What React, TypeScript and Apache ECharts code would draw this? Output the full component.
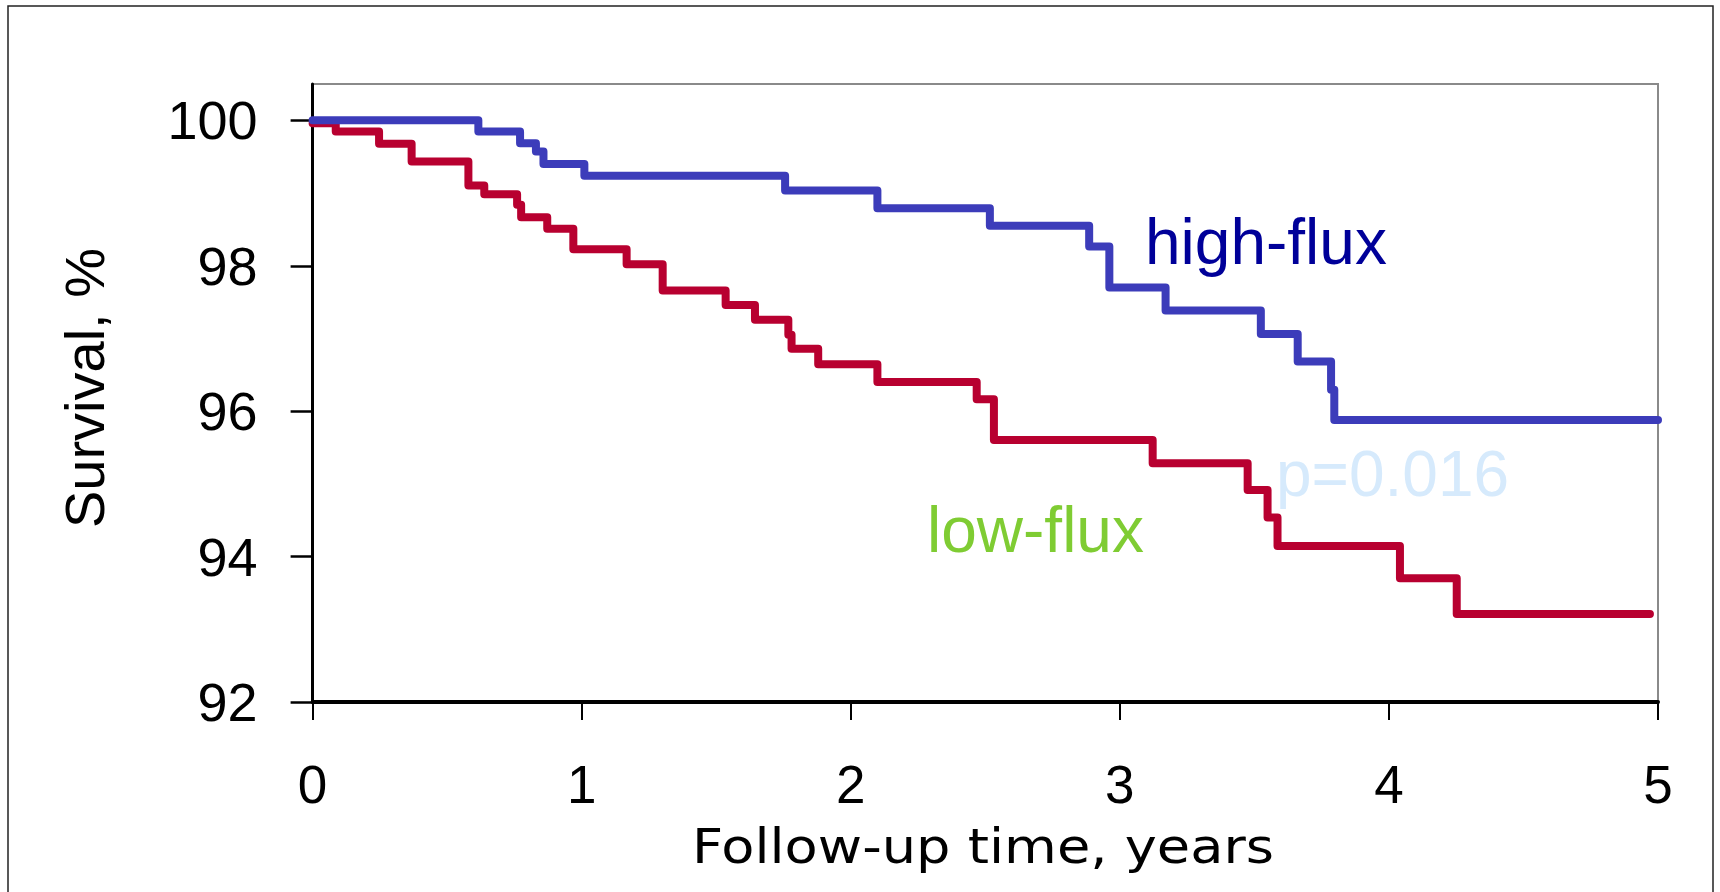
import React, { useEffect, useRef } from "react";
import * as echarts from "echarts";

// ---- data (time in years, survival in %) ----
const highFluxTime = [0, 0.616, 0.771, 0.83, 0.858, 1.01, 1.756, 2.099, 2.517, 2.886, 2.961, 3.17, 3.524, 3.661, 3.785, 3.797, 5.0];
const highFluxSurvival = [100, 99.846, 99.686, 99.57, 99.4, 99.237, 99.035, 98.79, 98.549, 98.264, 97.7, 97.384, 97.06, 96.682, 96.293, 95.88, 95.88];

const lowFluxTime = [0, 0.086, 0.247, 0.368, 0.579, 0.638, 0.76, 0.775, 0.872, 0.969, 1.167, 1.301, 1.535, 1.644, 1.768, 1.78, 1.879, 2.099, 2.468, 2.532, 3.122, 3.475, 3.549, 3.586, 4.041, 4.252, 4.97];
const lowFluxSurvival = [99.96, 99.846, 99.677, 99.433, 99.103, 98.985, 98.838, 98.668, 98.508, 98.228, 98.022, 97.659, 97.462, 97.256, 97.05, 96.857, 96.646, 96.4, 96.165, 95.605, 95.285, 94.917, 94.536, 94.147, 93.703, 93.212, 93.212];

const xTickValues = [0, 1, 2, 3, 4, 5];
const yTickValues = [92, 94, 96, 98, 100];
const seriesNames = ["high-flux", "low-flux"];
const xAxisTitle = "Follow-up time, years";
const yAxisTitle = "Survival, %";
const pValueText = "p=0.016";

const SANS = "'Liberation Sans', Arial, Helvetica, sans-serif";

export default function App() {
  const ref = useRef<HTMLDivElement>(null);

  useEffect(() => {
    if (!ref.current) return;
    const chart = echarts.init(ref.current, null, { renderer: "svg" });
    const zip = (t: number[], s: number[]) => t.map((v, i) => [v, s[i]]);

    chart.setOption({
      animation: false,
      backgroundColor: "#ffffff",
      grid: {
        left: 312.6,
        right: 62,
        top: 84,
        bottom: 190,
        show: true,
        borderColor: "#8a8a8a",
        borderWidth: 2,
        backgroundColor: "transparent",
        containLabel: false,
        outerBoundsMode: "none",
      },
      xAxis: {
        type: "value",
        min: xTickValues[0],
        max: xTickValues[xTickValues.length - 1],
        interval: 1,
        axisLine: { show: true, onZero: false, lineStyle: { color: "#000", width: 4 } },
        axisTick: { show: true, length: 18, lineStyle: { color: "#000", width: 2 } },
        axisLabel: {
          margin: 56,
          fontSize: 53,
          fontFamily: SANS,
          color: "#000",
        },
        splitLine: { show: false },
      },
      yAxis: {
        type: "value",
        min: 92,
        max: 100.5,
        axisLine: { show: true, onZero: false, lineStyle: { color: "#000", width: 3 } },
        axisTick: {
          show: true,
          length: 22,
          customValues: yTickValues,
          lineStyle: { color: "#000", width: 2.5 },
        },
        axisLabel: {
          customValues: yTickValues,
          margin: 55,
          fontSize: 54,
          fontFamily: SANS,
          color: "#000",
        },
        splitLine: { show: false },
      },
      series: [
        {
          name: seriesNames[1],
          type: "line",
          step: "end",
          showSymbol: false,
          clip: false,
          data: zip(lowFluxTime, lowFluxSurvival),
          lineStyle: { color: "#b80030", width: 8, cap: "round", join: "round" },
          z: 3,
        },
        {
          name: seriesNames[0],
          type: "line",
          step: "end",
          showSymbol: false,
          clip: false,
          data: zip(highFluxTime, highFluxSurvival),
          lineStyle: { color: "#3c3cba", width: 8, cap: "round", join: "round" },
          z: 4,
        },
      ],
      graphic: [
        {
          type: "rect",
          silent: true,
          z: 100,
          shape: { x: 8, y: 6, width: 1705, height: 900 },
          style: { fill: "none", stroke: "#222", lineWidth: 1.5 },
        },
        {
          type: "text",
          x: 84,
          y: 388,
          rotation: Math.PI / 2,
          style: {
            text: yAxisTitle,
            fontSize: 56,
            fontFamily: SANS,
            fill: "#000",
            textAlign: "center",
            textVerticalAlign: "middle",
            verticalAlign: "middle",
          },
        },
        {
          type: "text",
          x: 983,
          y: 846,
          scaleX: 1.13,
          style: {
            text: xAxisTitle,
            fontSize: 48,
            fontFamily: "'DejaVu Sans', sans-serif",
            fill: "#000",
            textAlign: "center",
            textVerticalAlign: "middle",
            verticalAlign: "middle",
          },
        },
        {
          type: "text",
          x: 1145,
          y: 242,
          style: {
            text: seriesNames[0],
            fontSize: 64,
            fontFamily: SANS,
            fill: "#000099",
            textAlign: "left",
            textVerticalAlign: "middle",
            verticalAlign: "middle",
          },
        },
        {
          type: "text",
          x: 927,
          y: 530,
          style: {
            text: seriesNames[1],
            fontSize: 64,
            fontFamily: SANS,
            fill: "#7fcc33",
            textAlign: "left",
            textVerticalAlign: "middle",
            verticalAlign: "middle",
          },
        },
        {
          type: "text",
          x: 1276,
          y: 474,
          style: {
            text: pValueText,
            fontSize: 64,
            fontFamily: SANS,
            fill: "#d6eafc",
            textAlign: "left",
            textVerticalAlign: "middle",
            verticalAlign: "middle",
          },
        },
      ],
    });

    return () => chart.dispose();
  }, []);

  return (
    <div
      ref={ref}
      style={{ position: "fixed", left: 0, top: 0, width: 1720, height: 892 }}
    />
  );
}
